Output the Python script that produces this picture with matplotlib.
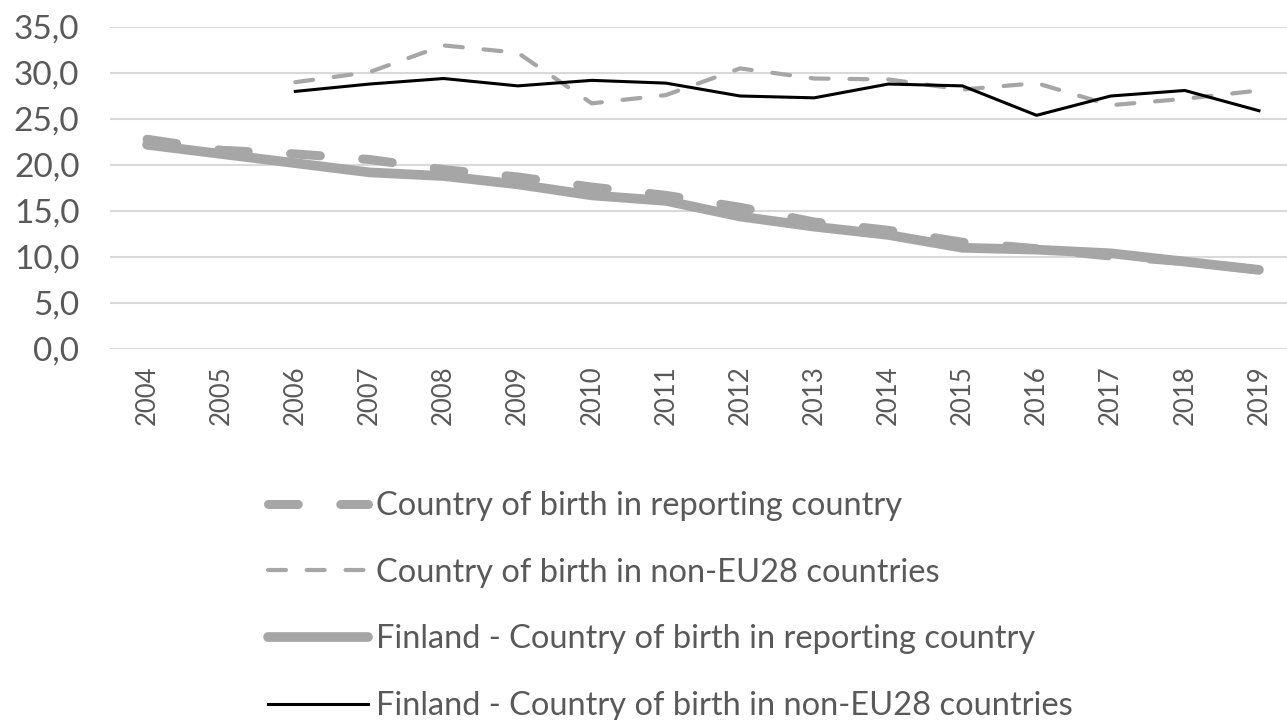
import numpy as np
import matplotlib
matplotlib.use('Agg')
import matplotlib.pyplot as plt

plt.rcParams['font.family'] = ['Lato', 'DejaVu Sans']

TEXT_GREY = '#595959'
LINE_GREY = '#a6a6a6'
GRID_GREY = '#d9d9d9'

# data
years = [str(y) for y in range(2004, 2020)]
reporting = [22.8, 21.6, 21.2, 20.6, 19.5, 18.7, 17.6, 16.7,
             15.4, 13.8, 12.9, 11.6, 10.9, 10.1, 9.5, 8.6]
non_eu = [np.nan, np.nan, 29.0, 30.1, 33.0, 32.2, 26.7, 27.6,
          30.5, 29.4, 29.3, 28.2, 28.9, 26.5, 27.2, 28.1]
fi_reporting = [22.2, 21.2, 20.2, 19.2, 18.8, 17.9, 16.7, 16.1,
                14.4, 13.3, 12.4, 11.0, 10.8, 10.4, 9.5, 8.6]
fi_non_eu = [np.nan, np.nan, 28.0, 28.8, 29.4, 28.6, 29.2, 28.9,
             27.5, 27.3, 28.8, 28.6, 25.4, 27.5, 28.1, 25.9]

labels = ['Country of birth in reporting country',
          'Country of birth in non-EU28 countries',
          'Finland - Country of birth in reporting country',
          'Finland - Country of birth in non-EU28 countries']

fig = plt.figure(figsize=(12.87, 7.2), dpi=100)
# plot area runs past the right edge, like the cropped original
ax = fig.add_axes([110 / 1287, 1 - 349 / 720, 1186 / 1287, (349 - 27) / 720])

x = np.arange(len(years))

l1, = ax.plot(x, reporting, color=LINE_GREY, linewidth=6.5,
              dashes=(3.3, 4.7), dash_capstyle='round', zorder=3)
l2, = ax.plot(x, non_eu, color=LINE_GREY, linewidth=3.0,
              dashes=(4.3, 5.0), dash_capstyle='round', zorder=3)
l3, = ax.plot(x, fi_reporting, color=LINE_GREY, linewidth=7.0,
              solid_capstyle='round', zorder=3)
l4, = ax.plot(x, fi_non_eu, color='black', linewidth=2.2, zorder=4)

ax.set_xlim(-0.5, len(years) - 0.5)
ax.set_ylim(0, 35)
ax.set_yticks(np.arange(0, 36, 5))
ax.set_yticklabels([f'{v:.1f}'.replace('.', ',') for v in np.arange(0, 36, 5)])
ax.set_xticks(x)
ax.set_xticklabels(years, rotation=90)

ax.grid(axis='y', color=GRID_GREY, linewidth=1.5)
ax.set_axisbelow(True)
for s in ax.spines.values():
    s.set_visible(False)
ax.tick_params(axis='both', length=0, colors=TEXT_GREY)
ax.tick_params(axis='y', labelsize=24, pad=22)
ax.tick_params(axis='x', labelsize=18.5, pad=12)

fig.legend([l1, l2, l3, l4], labels, loc='upper left',
           bbox_to_anchor=(252 / 1287, 1 - 475 / 720), frameon=False,
           fontsize=23.5, labelcolor=TEXT_GREY, handlelength=3.05,
           handletextpad=0.25, labelspacing=1.12, borderpad=0)

fig.savefig('out.png', dpi=100)
